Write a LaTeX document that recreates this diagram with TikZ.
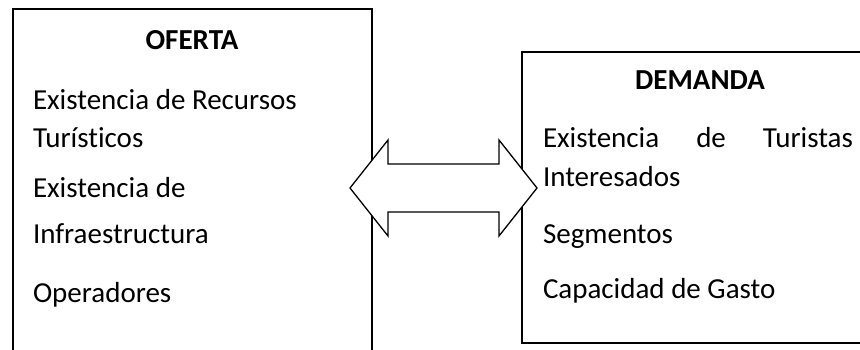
\documentclass[tikz,border=0pt]{standalone}
\usepackage{fontspec}
\setmainfont{Carlito}[Ligatures={NoCommon}]
\begin{document}
\begin{tikzpicture}[x=1pt,y=-1pt,
  boxframe/.style={draw=black, line width=2pt, fill=white, inner sep=0pt, outer sep=0pt, anchor=north west},
  txt/.style={inner sep=0pt, outer sep=0pt, anchor=base west, font=\fontsize{29}{36}\selectfont},
  ttl/.style={inner sep=0pt, outer sep=0pt, anchor=base, font=\fontsize{29}{36}\selectfont\bfseries},
  twoway/.style={draw=black, line width=1.3pt, fill=white, line join=miter}]
\useasboundingbox (0,0) rectangle (860,350);
\clip (0,0) rectangle (860,350);
% boxes
\node[boxframe, minimum width=359pt, minimum height=400pt] (oferta) at (12.5,9.5) {};
\node[boxframe, minimum width=380pt, minimum height=290.5pt] (demanda) at (521.5,52.5) {};
% double arrow
\coordinate (ltip) at (350,188);
\coordinate (rtip) at (537,188);
\draw[twoway] (ltip) -- (388,140) -- (388,164) -- (499,164) -- (499,140) -- (rtip)
  -- (499,236) -- (499,212) -- (388,212) -- (388,236) -- cycle;
% OFERTA texts
\node[ttl] (tof) at (192,50) {OFERTA};
\node[txt] (o1) at (33,110) {Existencia de Recursos};
\node[txt] (o2) at (33,148) {Turísticos};
\node[txt] (o3) at (33,197) {Existencia de};
\node[txt] (o4) at (33,243) {Infraestructura};
\node[txt] (o5) at (33,302) {Operadores};
% DEMANDA texts
\node[ttl] (tde) at (700,90) {DEMANDA};
\node[txt] (d1) at (543,148) {\makebox[310pt][s]{Existencia\hfill de\hfill Turistas}};
\node[txt] (d2) at (543,187) {Interesados};
\node[txt] (d3) at (543,243) {Segmentos};
\node[txt] (d4) at (543,298) {Capacidad de Gasto};
\end{tikzpicture}
\end{document}
